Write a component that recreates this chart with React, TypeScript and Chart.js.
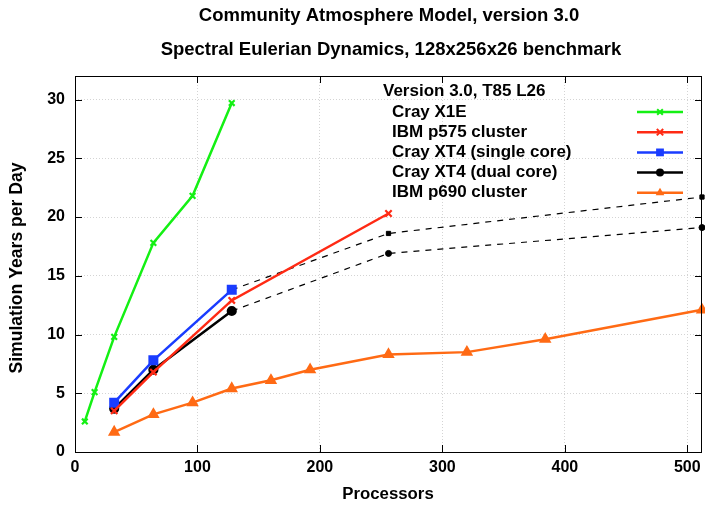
import React, { useEffect, useRef } from "react";
import Chart from "chart.js/auto";

const titleLines = ["Community Atmosphere Model, version 3.0", "Spectral Eulerian Dynamics, 128x256x26 benchmark"];
const legendTitle = "Version 3.0, T85 L26";
const xTitle = "Processors";
const yTitle = "Simulation Years per Day";

const x1eProcs = [8, 16, 32, 64, 96, 128];
const x1eVals = [2.6, 5.1, 9.8, 17.8, 21.8, 29.7];
const p575Procs = [32, 64, 128, 256];
const p575Vals = [3.5, 6.8, 12.9, 20.3];
const xt4sProcs = [32, 64, 128];
const xt4sVals = [4.2, 7.8, 13.8];
const xt4sProjProcs = [128, 256, 512];
const xt4sProjVals = [13.8, 18.6, 21.7];
const xt4dProcs = [32, 64, 128];
const xt4dVals = [3.7, 7.0, 12.0];
const xt4dProjProcs = [128, 256, 512];
const xt4dProjVals = [12.0, 16.9, 19.1];
const p690Procs = [32, 64, 96, 128, 160, 192, 256, 320, 384, 512];
const p690Vals = [1.7, 3.2, 4.2, 5.4, 6.1, 7.0, 8.3, 8.5, 9.6, 12.1];

const xTicks = [0, 100, 200, 300, 400, 500];
const yTicks = [0, 5, 10, 15, 20, 25, 30];

const FONT = "'Liberation Sans', Arial, Helvetica, sans-serif";

const toPts = (xs: number[], ys: number[]) => xs.map((x, i) => ({ x, y: ys[i] }));

const series = [
  { label: "Cray X1E", procs: x1eProcs, vals: x1eVals, color: "#14f014", style: "crossRot", r: 4 },
  { label: "IBM p575 cluster", procs: p575Procs, vals: p575Vals, color: "#ff2a14", style: "crossRot", r: 4.5 },
  { label: "Cray XT4 (single core)", procs: xt4sProcs, vals: xt4sVals, color: "#1a3cff", style: "rect", r: 5.5 },
  { label: "Cray XT4 (dual core)", procs: xt4dProcs, vals: xt4dVals, color: "#000000", style: "circle", r: 4 },
  { label: "IBM p690 cluster", procs: p690Procs, vals: p690Vals, color: "#ff6a14", style: "triangle", r: 5 },
];

function marker(ctx: CanvasRenderingContext2D, style: string, r: number, x: number, y: number, color: string) {
  ctx.save();
  ctx.fillStyle = color;
  ctx.strokeStyle = color;
  ctx.lineWidth = 2;
  ctx.beginPath();
  if (style === "crossRot") {
    const d = r * Math.SQRT1_2;
    ctx.moveTo(x - d, y - d);
    ctx.lineTo(x + d, y + d);
    ctx.moveTo(x + d, y - d);
    ctx.lineTo(x - d, y + d);
    ctx.stroke();
  } else if (style === "rect") {
    const s = r * Math.SQRT1_2;
    ctx.fillRect(x - s, y - s, 2 * s, 2 * s);
  } else if (style === "circle") {
    ctx.arc(x, y, r, 0, Math.PI * 2);
    ctx.fill();
  } else if (style === "triangle") {
    ctx.moveTo(x, y - r);
    ctx.lineTo(x + r * 0.87, y + r * 0.5);
    ctx.lineTo(x - r * 0.87, y + r * 0.5);
    ctx.closePath();
    ctx.fill();
  }
  ctx.restore();
}

const decorPlugin = {
  id: "decor",
  afterDraw(chart: any) {
    const ctx = chart.ctx;
    const a = chart.chartArea;
    const xs = chart.scales.x;
    const ys = chart.scales.y;
    ctx.save();
    ctx.strokeStyle = "#000";
    ctx.lineWidth = 1;
    ctx.setLineDash([]);
    ctx.strokeRect(Math.round(a.left) + 0.5, Math.round(a.top) + 0.5, Math.round(a.right - a.left) - 1, Math.round(a.bottom - a.top));
    const tl = 7;
    ctx.beginPath();
    xTicks.forEach((v) => {
      const px = Math.round(xs.getPixelForValue(v)) + 0.5;
      ctx.moveTo(px, a.bottom);
      ctx.lineTo(px, a.bottom - tl);
      ctx.moveTo(px, a.top);
      ctx.lineTo(px, a.top + tl);
    });
    yTicks.forEach((v) => {
      const py = Math.round(ys.getPixelForValue(v)) + 0.5;
      ctx.moveTo(a.left, py);
      ctx.lineTo(a.left + tl, py);
      ctx.moveTo(a.right, py);
      ctx.lineTo(a.right - tl, py);
    });
    ctx.stroke();

    ctx.fillStyle = "#000";
    ctx.textAlign = "center";
    ctx.textBaseline = "middle";
    ctx.font = `bold 18.5px ${FONT}`;
    ctx.fillText(titleLines[0], 389, 16);
    ctx.fillText(titleLines[1], 391, 50);

    ctx.font = `bold 16.8px ${FONT}`;
    ctx.fillText(xTitle, 388, 494);
    ctx.save();
    ctx.translate(17, 268);
    ctx.rotate(-Math.PI / 2);
    ctx.font = `bold 17.6px ${FONT}`;
    ctx.fillText(yTitle, 0, 0);
    ctx.restore();

    ctx.textAlign = "left";
    ctx.font = `bold 17px ${FONT}`;
    ctx.fillText(legendTitle, 383, 91);
    series.forEach((s, i) => {
      const y = 112 + i * 20.2;
      ctx.fillStyle = "#000";
      ctx.fillText(s.label, 392, y);
      ctx.strokeStyle = s.color;
      ctx.lineWidth = 2.5;
      ctx.beginPath();
      ctx.moveTo(637, y);
      ctx.lineTo(683, y);
      ctx.stroke();
      marker(ctx, s.style, s.r, 660, y, s.color);
    });
    ctx.restore();
  },
};

export default function App() {
  const ref = useRef<HTMLCanvasElement | null>(null);
  useEffect(() => {
    document.body.style.margin = "0";
    const ctx = ref.current!.getContext("2d")!;
    const datasets: any[] = [];
    series.forEach((s) => {
      datasets.push({
        label: s.label,
        data: toPts(s.procs, s.vals),
        borderColor: s.color,
        backgroundColor: s.color,
        borderWidth: 2.5,
        pointStyle: s.style,
        pointRadius: s.r,
        pointBorderWidth: 2.2,
        pointBackgroundColor: s.color,
        pointBorderColor: s.color,
        clip: false,
        order: 1,
      });
    });
    [
      [xt4sProjProcs, xt4sProjVals, "rect"],
      [xt4dProjProcs, xt4dProjVals, "circle"],
    ].forEach(([p, v, st]: any) => {
      datasets.push({
        label: "proj",
        data: toPts(p, v),
        borderColor: "#000",
        backgroundColor: "#000",
        borderWidth: 1.2,
        borderDash: [6, 6],
        pointStyle: st,
        pointRadius: [0, 3, 3],
        pointBorderWidth: 1,
        clip: false,
        order: 5,
      });
    });
    const chart = new Chart(ctx, {
      type: "line",
      data: { datasets },
      plugins: [decorPlugin],
      options: {
        animation: false,
        responsive: false,
        layout: { autoPadding: false, padding: { top: 76, right: 3, left: 0, bottom: 0 } },
        plugins: { legend: { display: false }, tooltip: { enabled: false }, title: { display: false } },
        scales: {
          x: {
            type: "linear",
            min: 0,
            max: 512,
            afterFit: (s: any) => { s.height = 54; s.paddingLeft = 0; s.paddingRight = 0; },
            afterBuildTicks: (s: any) => { s.ticks = xTicks.map((v) => ({ value: v })); },
            ticks: { color: "#000", font: { family: FONT, weight: "bold", size: 16 }, padding: 6, maxRotation: 0 },
            grid: { color: "#d4d4d4", drawTicks: false, lineWidth: 1 },
            border: { display: false, dash: [1, 2] },
          },
          y: {
            type: "linear",
            min: 0,
            max: 32,
            afterFit: (s: any) => { s.width = 75; s.paddingTop = 0; s.paddingBottom = 0; },
            afterBuildTicks: (s: any) => { s.ticks = yTicks.map((v) => ({ value: v })); },
            ticks: { color: "#000", font: { family: FONT, weight: "bold", size: 16 }, padding: 10 },
            grid: { color: "#d4d4d4", drawTicks: false, lineWidth: 1 },
            border: { display: false, dash: [1, 2] },
          },
        },
      } as any,
    });
    return () => chart.destroy();
  }, []);
  return (
    <div style={{ position: "absolute", left: 0, top: 0, width: 705, height: 506, background: "#fff" }}>
      <canvas ref={ref} width={705} height={506} />
    </div>
  );
}
